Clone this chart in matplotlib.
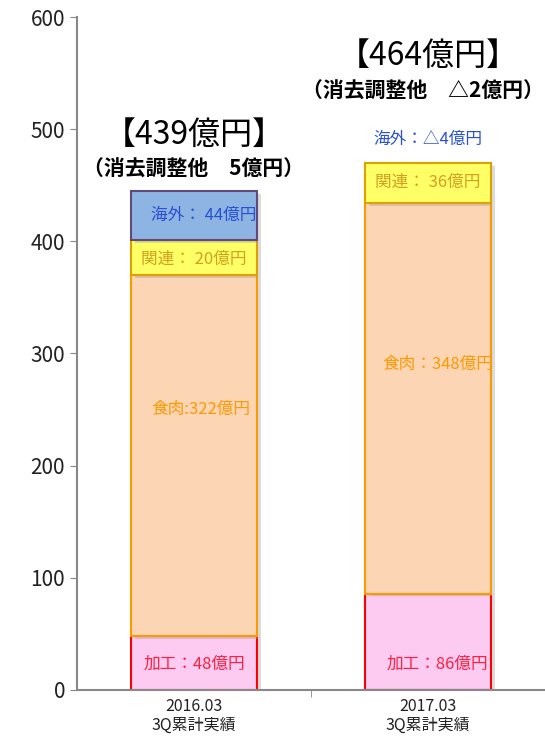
import matplotlib
matplotlib.use("Agg")
import matplotlib.pyplot as plt
import matplotlib.patheffects as pe
import numpy as np

plt.rcParams['font.family'] = ['Noto Sans CJK JP', 'DejaVu Sans']

# data
periods = ['2016.03\n3Q累計実績', '2017.03\n3Q累計実績']
segments = ['加工', '食肉', '関連', '海外']
heights = {
    '加工': [48, 86],
    '食肉': [322, 348],
    '関連': [31, 36],
    '海外': [44, -4],
}
seg_labels = {
    '加工': ['加工：48億円', '加工：86億円'],
    '食肉': ['食肉:322億円', '食肉：348億円'],
    '関連': ['関連： 20億円', '関連： 36億円'],
    '海外': ['海外： 44億円', '海外：△4億円'],
}
totals = ['【439億円】', '【464億円】']
adjust = ['（消去調整他　5億円）', '（消去調整他　△2億円）']

fills = {'加工': '#fdcaf1', '食肉': '#fcd5b5', '関連': '#ffff66', '海外': '#8eb4e3'}
edges = {'加工': '#ff0000', '食肉': '#ff9900', '関連': '#e0a000', '海外': '#604a7b'}
text_cols = {'加工': '#ff2040', '食肉': '#ff9900', '関連': '#d4a020', '海外': '#2850d0'}

fig = plt.figure(figsize=(5.45, 7.4), dpi=100)
ax = fig.add_axes([0.141, 0.0676, 0.859, 0.9094])

x = np.arange(len(periods))
width = 0.54
shadow = [pe.SimplePatchShadow(offset=(3, -2), shadow_rgbFace='#999999', alpha=0.35), pe.Normal()]

pos_base = np.zeros(len(periods))
for seg in segments:
    vals = np.array(heights[seg], dtype=float)
    bottoms = np.where(vals >= 0, pos_base, 0)
    bars = ax.bar(x, vals, width, bottom=bottoms, color=fills[seg],
                  edgecolor=edges[seg], linewidth=1.5, zorder=2)
    for b in bars:
        b.set_path_effects(shadow)
    pos_base = pos_base + np.where(vals >= 0, vals, 0)

# segment label positions (y in data units) and x offsets
label_y = {'加工': [23, 23], '食肉': [250, 290], '関連': [384, 453], '海外': [423, 491]}
label_dx = {'加工': [0, 0.04], '食肉': [0.03, 0.04], '関連': [0.0, 0.0], '海外': [0.04, 0.0]}
for seg in segments:
    for i in range(len(periods)):
        ax.text(x[i] + label_dx[seg][i], label_y[seg][i], seg_labels[seg][i],
                ha='center', va='center', fontsize=12, color=text_cols[seg], zorder=3)

total_y = [495, 565]
adj_dx = [0.0, -0.02]
for i in range(len(periods)):
    ax.text(x[i], total_y[i], totals[i], ha='center', va='center', fontsize=23, color='black')
    ax.text(x[i] + adj_dx[i], total_y[i] - 31, adjust[i], ha='center', va='center', fontsize=15,
            color='black', fontweight='bold')

ax.set_xlim(-0.5, 1.5)
ax.set_ylim(0, 600)
ax.set_yticks(np.arange(0, 601, 100))
ax.tick_params(axis='y', labelsize=15, colors='#888888', labelcolor='#222222', length=5, direction='out')
ax.set_xticks(x)
ax.set_xticklabels(periods, fontsize=11.5, color='#222222', linespacing=1.1)
ax.tick_params(axis='x', length=0, pad=6)
ax.set_xticks([0.5], minor=True)
ax.tick_params(axis='x', which='minor', length=5, colors='#888888')
for s in ['top', 'right']:
    ax.spines[s].set_visible(False)
for s in ['left', 'bottom']:
    ax.spines[s].set_color('#888888')
    ax.spines[s].set_linewidth(1.5)

fig.savefig('out.png', dpi=100)
